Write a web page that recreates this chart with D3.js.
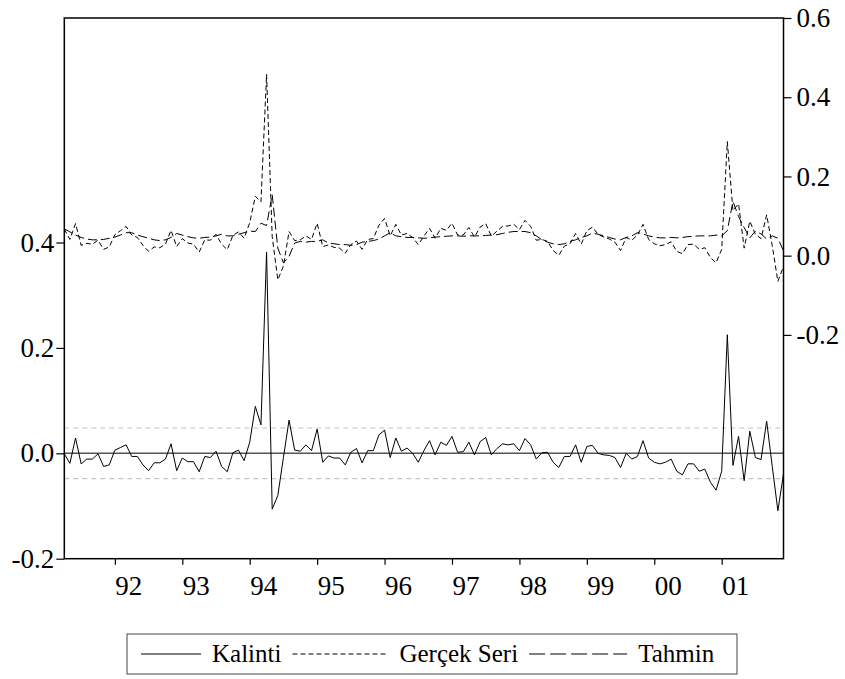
<!DOCTYPE html>
<html>
<script src="https://d3js.org/d3.v7.min.js"></script>
<style>
  body { margin: 0; background: #fff; }
  text { font-family: "Liberation Serif", "Times New Roman", serif; fill: #000; }
</style>
<body>
<div id="chart"></div>

<script>
    // monthly observations, 1991:04 .. 2001:12
    var startYear = 1991, startMonth = 4;

    // Kalinti (residual), left axis
    var kalinti = [
        -0.001, -0.019, 0.029, -0.020, -0.011, -0.011, -0.001, -0.025, -0.022,
        0.006, 0.011, 0.016, -0.006, -0.006, -0.022, -0.033, -0.018, -0.018, -0.011, 0.018, -0.033,
        -0.009, -0.016, -0.016, -0.035, -0.006, -0.008, 0.004, -0.025, -0.035, 0.001, 0.006, -0.014,
        0.021, 0.089, 0.054, 0.382, -0.106, -0.080, -0.008, 0.063, 0.006, 0.004, 0.016, 0.005,
        0.046, -0.017, -0.005, -0.009, -0.009, -0.022, 0.002, 0.009, -0.018, 0.005, 0.005, 0.035,
        0.044, -0.008, 0.029, 0.004, 0.010, 0.000, -0.017, 0.005, 0.024, -0.003, 0.021, 0.015,
        0.032, 0.002, 0.003, 0.021, -0.003, 0.022, 0.030, -0.003, 0.009, 0.018, 0.016, 0.018,
        0.005, 0.028, 0.016, -0.011, 0.001, 0.002, -0.017, -0.027, -0.006, -0.006, 0.016, -0.017,
        0.013, 0.015, 0.000, -0.003, -0.004, -0.008, -0.027, 0.000, -0.011, -0.006, 0.024, -0.009,
        -0.017, -0.020, -0.017, -0.011, -0.034, -0.041, -0.020, -0.020, -0.034, -0.030, -0.055, -0.070,
        -0.034, 0.225, -0.023, 0.032, -0.052, 0.042, -0.008, -0.012, 0.061, -0.025, -0.109, -0.039
    ];

    // Gercek Seri (actual), right axis
    var gercek = [
        0.067, 0.041, 0.081, 0.026, 0.031, 0.029, 0.039, 0.016, 0.022,
        0.053, 0.063, 0.074, 0.052, 0.046, 0.026, 0.011, 0.022, 0.020, 0.029, 0.064, 0.023,
        0.043, 0.032, 0.029, 0.009, 0.040, 0.039, 0.054, 0.029, 0.015, 0.051, 0.060, 0.044,
        0.083, 0.150, 0.136, 0.458, 0.048, -0.061, -0.026, 0.061, 0.038, 0.040, 0.050, 0.041,
        0.082, 0.023, 0.027, 0.021, 0.019, 0.006, 0.028, 0.037, 0.016, 0.041, 0.043, 0.077,
        0.094, 0.050, 0.079, 0.052, 0.056, 0.046, 0.028, 0.049, 0.069, 0.044, 0.069, 0.064,
        0.082, 0.052, 0.052, 0.071, 0.047, 0.072, 0.081, 0.049, 0.062, 0.074, 0.075, 0.079,
        0.066, 0.089, 0.074, 0.039, 0.041, 0.036, 0.013, 0.001, 0.024, 0.030, 0.056, 0.029,
        0.063, 0.072, 0.054, 0.047, 0.042, 0.034, 0.013, 0.046, 0.039, 0.052, 0.079, 0.041,
        0.030, 0.025, 0.028, 0.035, 0.011, 0.005, 0.028, 0.029, 0.016, 0.020, -0.005, -0.018,
        0.016, 0.288, 0.114, 0.131, 0.019, 0.087, 0.054, 0.043, 0.103, 0.025, -0.065, -0.027
    ];

    // Tahmin (fitted), right axis
    var tahmin = [
        0.068, 0.060, 0.052, 0.046, 0.042, 0.040, 0.040, 0.041, 0.044,
        0.047, 0.052, 0.058, 0.058, 0.052, 0.048, 0.044, 0.040, 0.038, 0.040, 0.046, 0.056,
        0.052, 0.048, 0.045, 0.044, 0.046, 0.047, 0.050, 0.054, 0.050, 0.050, 0.054, 0.058,
        0.062, 0.061, 0.082, 0.076, 0.154, 0.019, -0.018, -0.002, 0.032, 0.036, 0.034, 0.036,
        0.036, 0.040, 0.032, 0.030, 0.028, 0.028, 0.026, 0.028, 0.034, 0.036, 0.038, 0.042,
        0.050, 0.058, 0.050, 0.048, 0.046, 0.046, 0.045, 0.044, 0.045, 0.047, 0.048, 0.049,
        0.050, 0.050, 0.049, 0.050, 0.050, 0.050, 0.051, 0.052, 0.053, 0.056, 0.059, 0.061,
        0.061, 0.061, 0.058, 0.050, 0.040, 0.034, 0.030, 0.028, 0.030, 0.036, 0.040, 0.046,
        0.050, 0.057, 0.054, 0.050, 0.046, 0.042, 0.040, 0.046, 0.050, 0.058, 0.055, 0.050,
        0.047, 0.045, 0.045, 0.046, 0.045, 0.046, 0.048, 0.049, 0.050, 0.050, 0.050, 0.052,
        0.050, 0.063, 0.137, 0.099, 0.071, 0.045, 0.062, 0.055, 0.042, 0.050, 0.044, 0.012
    ];

    var yearTicks = [1992, 1993, 1994, 1995, 1996, 1997, 1998, 1999, 2000, 2001];
    var yearLabels = ["92", "93", "94", "95", "96", "97", "98", "99", "00", "01"];
    var leftTicks = [-0.2, 0.0, 0.2, 0.4];
    var rightTicks = [-0.2, 0.0, 0.2, 0.4, 0.6];
    var bandSE = 0.048;   // +/- 1 s.e. band on the residual

    var W = 845, H = 679;
    var L = 64.3, R = 783.5, T = 18, B = 558.7;

    var svg = d3.select("#chart").append("svg")
        .attr("width", W)
        .attr("height", H);

    var n = kalinti.length;
    var x = d3.scaleLinear().domain([0, n - 1]).range([L, R]);
    var yL = d3.scaleLinear().domain([-0.2, 0.826]).range([B, T]);
    var yR = d3.scaleLinear().domain([-0.765, 0.6]).range([B, T]);

    // index of January of each labelled year
    var tickIdx = yearTicks.map(function (y) { return (y - startYear) * 12 + (1 - startMonth); });

    // reference lines for the residual
    [bandSE, -bandSE].forEach(function (v) {
        svg.append("line")
            .attr("x1", L).attr("x2", R)
            .attr("y1", yL(v)).attr("y2", yL(v))
            .attr("stroke", "#c4c4c4").attr("stroke-width", 1.2).attr("stroke-dasharray", "5,4");
    });
    svg.append("line")
        .attr("x1", L).attr("x2", R)
        .attr("y1", yL(0)).attr("y2", yL(0))
        .attr("stroke", "#555").attr("stroke-width", 1.6);

    var lineL = d3.line().x(function (d, i) { return x(i); }).y(function (d) { return yL(d); });
    var lineR = d3.line().x(function (d, i) { return x(i); }).y(function (d) { return yR(d); });

    svg.append("path").datum(tahmin)
        .attr("d", lineR).attr("fill", "none")
        .attr("stroke", "#000").attr("stroke-width", 1).attr("stroke-dasharray", "9,4");
    svg.append("path").datum(gercek)
        .attr("d", lineR).attr("fill", "none")
        .attr("stroke", "#000").attr("stroke-width", 1).attr("stroke-dasharray", "5,3");
    svg.append("path").datum(kalinti)
        .attr("d", lineL).attr("fill", "none")
        .attr("stroke", "#000").attr("stroke-width", 1);

    // frame
    svg.append("rect")
        .attr("x", L).attr("y", T)
        .attr("width", R - L).attr("height", B - T)
        .attr("fill", "none").attr("stroke", "#000").attr("stroke-width", 1.5);

    function fmt(d) { return d.toFixed(1); }

    var gL = svg.append("g").attr("transform", "translate(" + L + ",0)")
        .call(d3.axisLeft(yL).tickValues(leftTicks).tickFormat(fmt).tickSize(8).tickPadding(2));
    var gR = svg.append("g").attr("transform", "translate(" + R + ",0)")
        .call(d3.axisRight(yR).tickValues(rightTicks).tickFormat(fmt).tickSize(8).tickPadding(5));
    var gB = svg.append("g").attr("transform", "translate(0," + B + ")")
        .call(d3.axisBottom(x).tickValues(tickIdx)
            .tickFormat(function (d, i) { return yearLabels[i]; }).tickSize(6));

    [gL, gR, gB].forEach(function (g) {
        g.select(".domain").remove();
        g.attr("font-family", null).attr("font-size", null);
        g.selectAll("line").attr("stroke", "#000").attr("stroke-width", 1.2);
        g.selectAll("text").style("font-size", "27px").attr("fill", "#000");
    });
    gB.selectAll("text").attr("text-anchor", "start").attr("y", 36).attr("dy", 0);

    // legend
    var legend = svg.append("g");
    legend.append("rect")
        .attr("x", 127).attr("y", 634)
        .attr("width", 610).attr("height", 40)
        .attr("fill", "#fff").attr("stroke", "#444").attr("stroke-width", 1);
    var items = [
        { name: "Kalinti", dash: null, len: 60 },
        { name: "Gerçek Seri", dash: "5,3", len: 96 },
        { name: "Tahmin", dash: "16,5", len: 98 }
    ];
    var lx = 141, ly = 654;
    items.forEach(function (it) {
        legend.append("line")
            .attr("x1", lx).attr("x2", lx + it.len).attr("y1", ly).attr("y2", ly)
            .attr("stroke", "#000").attr("stroke-width", 1)
            .attr("stroke-dasharray", it.dash);
        var t = legend.append("text")
            .attr("x", lx + it.len + 11).attr("y", ly + 8)
            .style("font-size", "25px")
            .text(it.name);
        lx += it.len + 11 + t.node().getComputedTextLength() + 11;
    });
</script>

</body>
</html>
